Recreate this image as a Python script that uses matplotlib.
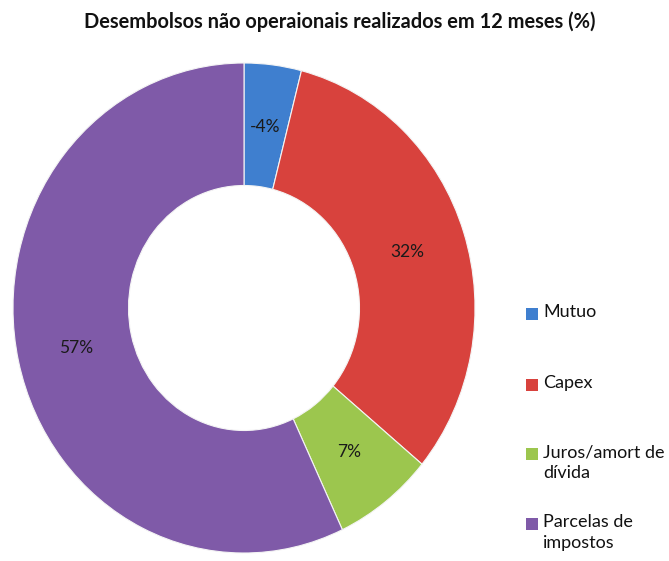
import matplotlib
matplotlib.use("Agg")
import matplotlib.pyplot as plt
from matplotlib.patches import Rectangle
import numpy as np

plt.rcParams['font.family'] = ['Lato', 'DejaVu Sans']

title = "Desembolsos não operaionais realizados em 12 meses (%)"
categories = ["Mutuo", "Capex", "Juros/amort de\ndívida", "Parcelas de\nimpostos"]
values = [-4, 32, 7, 57]
colors = ["#3f7fcf", "#d8423d", "#9cc64e", "#7f5aa8"]

fig = plt.figure(figsize=(6.69, 5.61), dpi=100)
W, H = 669, 561
ax = fig.add_axes([13 / W, 8 / H, 462 / W, 490 / H])

sizes = [abs(v) for v in values]
wedges, _ = ax.pie(sizes, colors=colors, startangle=90, counterclock=False,
                   radius=1.0,
                   wedgeprops=dict(width=0.5, edgecolor="#f4f4f4", linewidth=0.8))
ax.set_aspect('auto')
ax.set_xlim(-1, 1)
ax.set_ylim(-1, 1)

total = sum(sizes)
cum = 0
for v, s in zip(values, sizes):
    mid = 90 - (cum + s / 2) / total * 360
    cum += s
    r = 0.745
    ax.text(r * np.cos(np.radians(mid)), r * np.sin(np.radians(mid)), f"{v}%",
            ha="center", va="center", fontsize=12.5, color="#1a1a1a")

fig.text(340 / W, 1 - 22 / H, title, ha="center", va="center",
         fontsize=14.4, fontweight="bold", color="#111111")

leg_y = [314, 385, 454, 524]
for cat, col, y in zip(categories, colors, leg_y):
    fig.add_artist(Rectangle((526 / W, 1 - (y + 6) / H), 12 / W, 12 / H,
                             transform=fig.transFigure, facecolor=col,
                             edgecolor="none"))
    fig.text(543 / W, 1 - (y - 10) / H, cat, ha="left", va="top",
             fontsize=13, color="#111111", linespacing=1.4)

fig.savefig("out.png", dpi=100, facecolor="white")
